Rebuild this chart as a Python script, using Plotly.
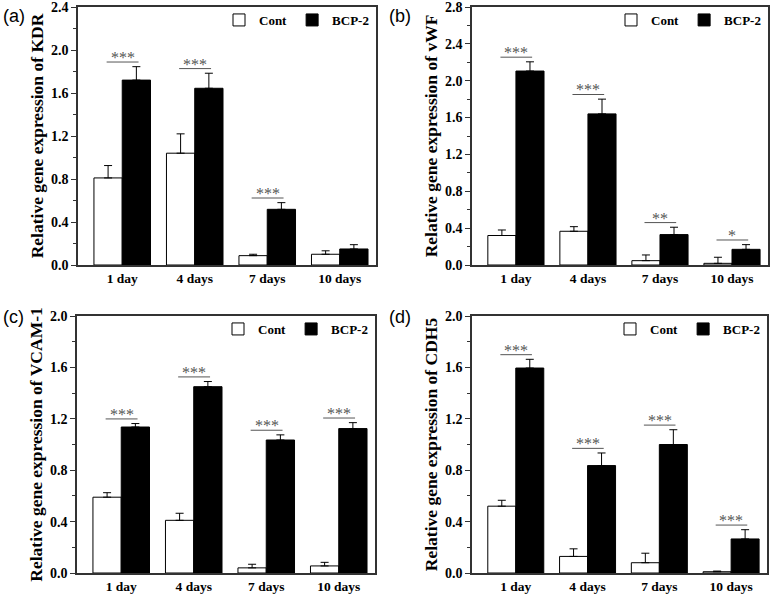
import plotly.graph_objects as go

categories = ["1 day", "4 days", "7 days", "10 days"]
x_pos = [0, 1, 2, 3]

kdr_cont = [0.81, 1.04, 0.087, 0.10]
kdr_cont_err = [0.115, 0.18, 0.013, 0.032]
kdr_bcp = [1.72, 1.644, 0.518, 0.149]
kdr_bcp_err = [0.125, 0.14, 0.062, 0.04]
kdr_sig = ["***", "***", "***", ""]

vwf_cont = [0.32, 0.366, 0.047, 0.018]
vwf_cont_err = [0.06, 0.05, 0.062, 0.066]
vwf_bcp = [2.105, 1.64, 0.33, 0.17]
vwf_bcp_err = [0.10, 0.16, 0.08, 0.051]
vwf_sig = ["***", "***", "**", "*"]

vcam_cont = [0.59, 0.41, 0.04, 0.055]
vcam_cont_err = [0.035, 0.055, 0.028, 0.028]
vcam_bcp = [1.136, 1.45, 1.035, 1.124]
vcam_bcp_err = [0.027, 0.04, 0.04, 0.046]
vcam_sig = ["***", "***", "***", "***"]

cdh5_cont = [0.52, 0.129, 0.08, 0.01]
cdh5_cont_err = [0.046, 0.059, 0.074, 0.005]
cdh5_bcp = [1.595, 0.836, 1.00, 0.265]
cdh5_bcp_err = [0.068, 0.098, 0.115, 0.072]
cdh5_sig = ["***", "***", "***", "***"]

genes = ["KDR", "vWF", "VCAM-1", "CDH5"]
panel_labels = ["(a)", "(b)", "(c)", "(d)"]
y_max = [2.4, 2.8, 2.0, 2.0]
y_dtick = [0.4, 0.4, 0.4, 0.4]
series_names = ["Cont", "BCP-2"]

panels = [
    (kdr_cont, kdr_cont_err, kdr_bcp, kdr_bcp_err, kdr_sig),
    (vwf_cont, vwf_cont_err, vwf_bcp, vwf_bcp_err, vwf_sig),
    (vcam_cont, vcam_cont_err, vcam_bcp, vcam_bcp_err, vcam_sig),
    (cdh5_cont, cdh5_cont_err, cdh5_bcp, cdh5_bcp_err, cdh5_sig),
]

W, H = 772, 595
# pixel boxes of plot areas: (left, right, top, bottom)
boxes = [(78, 376, 7, 265), (472, 768, 7, 265), (77, 375, 316, 573), (472, 767, 316, 573)]
label_pos = [(1, 4), (387, 4), (1, 305), (387, 305)]

SERIF = "Liberation Serif"
BW = 0.39


def px(xw):
    return min(1.0, max(0.0, xw / W))


def py(yw):
    return min(1.0, max(0.0, 1 - yw / H))


fig = go.Figure()
shapes = []
annotations = []

for i, (cont, cont_err, bcp, bcp_err, sig) in enumerate(panels):
    n = "" if i == 0 else str(i + 1)
    xa, ya = "x" + n, "y" + n
    leg = "legend" + n
    l, r, t, b = boxes[i]
    fig.add_trace(go.Bar(
        x=x_pos, y=cont, name=series_names[0], xaxis=xa, yaxis=ya,
        width=BW, offset=-BW, marker=dict(color="white", line=dict(color="black", width=1)),
        error_y=dict(type="data", symmetric=False, array=cont_err, arrayminus=[0] * 4,
                     color="black", thickness=1, width=4),
        legend=leg, showlegend=True,
    ))
    fig.add_trace(go.Bar(
        x=x_pos, y=bcp, name=series_names[1], xaxis=xa, yaxis=ya,
        width=BW, offset=0, marker=dict(color="black", line=dict(color="black", width=1)),
        error_y=dict(type="data", symmetric=False, array=bcp_err, arrayminus=[0] * 4,
                     color="black", thickness=1, width=4),
        legend=leg, showlegend=True,
    ))
    axis_common = dict(showline=True, linecolor="#333", linewidth=1.5, mirror=True,
                       automargin=False, showgrid=False, zeroline=False,
                       ticklabeloverflow="allow")
    fig.layout["xaxis" + n] = dict(
        domain=[px(l), px(r)], anchor=ya, range=[-0.61, 3.5],
        tickvals=x_pos, ticktext=categories, ticks="",
        tickfont=dict(family=SERIF, size=13.5, color="black", weight="bold"),
        **axis_common)
    fig.layout["yaxis" + n] = dict(
        domain=[py(b), py(t)], anchor=xa, range=[0, y_max[i]],
        dtick=y_dtick[i], tickformat=".1f", ticks="outside", ticklen=5, tickwidth=1, tickcolor="#333",
        minor=dict(dtick=y_dtick[i] / 2, ticks="outside", ticklen=3, tickcolor="#333"),
        tickfont=dict(family=SERIF, size=14, color="black", weight="bold"),
        title=dict(text="Relative gene expression of " + genes[i],
                   font=dict(family=SERIF, size=17.5, color="black", weight="bold"), standoff=3),
        **axis_common)
    fig.layout[leg] = dict(
        orientation="h", x=px(r - 2), xanchor="right", y=py(t - 2), yanchor="top",
        bgcolor="rgba(0,0,0,0)", borderwidth=0, itemwidth=30, tracegroupgap=0,
        font=dict(family=SERIF, size=13, color="black", weight="bold"))
    # significance marks
    off = y_max[i] * 0.018
    for j in range(4):
        if not sig[j]:
            continue
        top = max(bcp[j] + bcp_err[j], cont[j] + cont_err[j]) + off
        shapes.append(dict(type="line", xref=xa, yref=ya, x0=x_pos[j] - BW / 2 - 0.02,
                           x1=x_pos[j] + BW / 2 + 0.03, y0=top, y1=top,
                           line=dict(color="#555", width=1)))
        annotations.append(dict(xref=xa, yref=ya, x=x_pos[j] + 0.005, y=top, text=sig[j],
                                showarrow=False, yanchor="bottom", yshift=-6,
                                font=dict(family=SERIF, size=16, color="#555")))
    lx, ly = label_pos[i]
    annotations.append(dict(xref="paper", yref="paper", x=px(lx), y=py(ly),
                            xanchor="left", yanchor="top",
                            text=panel_labels[i], showarrow=False,
                            font=dict(family="Liberation Sans", size=18, color="black")))

fig.update_layout(
    width=W, height=H, margin=dict(l=0, r=0, t=0, b=0, autoexpand=False),
    paper_bgcolor="white", plot_bgcolor="white",
    shapes=shapes, annotations=annotations, barmode="overlay",
)
fig.write_html("out.html", config={"displayModeBar": False},
               post_script="document.body.style.margin='0px';")
